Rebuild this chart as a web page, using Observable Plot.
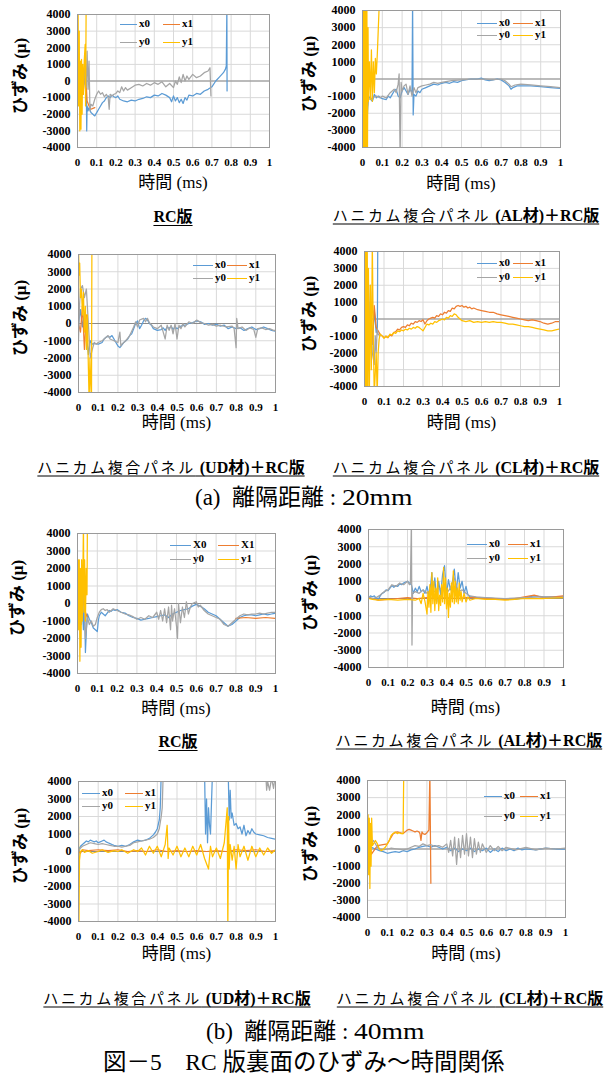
<!DOCTYPE html>
<html><head><meta charset="utf-8">
<script src="https://cdn.jsdelivr.net/npm/d3@7"></script>
<script src="https://cdn.jsdelivr.net/npm/@observablehq/plot@0.6"></script>
<style>
body{margin:0;background:#fff}
#wrap{position:relative;width:608px;height:1090px;overflow:hidden;font-family:'Liberation Serif','Noto Sans CJK JP',serif;color:#000;background:#fff}
.abs{position:absolute;white-space:nowrap;line-height:1}
.ttl{transform:translate(-50%,-50%);font-size:16px;font-weight:bold;text-decoration:underline;text-underline-offset:3px}
.kana{font-weight:normal;letter-spacing:2.6px;font-size:15px;font-family:'Noto Sans CJK JP',sans-serif}
.xl{transform:translate(-50%,-50%);font-size:17px}
.yl{transform:translate(-50%,-50%) rotate(-90deg);font-size:17px;font-weight:bold}
.cap{transform:translateY(-50%);font-size:23px}
.num{display:inline-block;transform:scaleX(1.2);transform-origin:left center}
.leg{font-size:11px;font-weight:bold;font-family:'Liberation Serif',serif}
.sw{position:absolute;height:0;border-top:1.6px solid}
svg text{font-family:'Liberation Serif',serif}
</style></head>
<body><div id="wrap"></div>
<script>
// ---- axis ticks & series ----
const xTicks = [0,0.1,0.2,0.3,0.4,0.5,0.6,0.7,0.8,0.9,1];
const yTicks = [-4000,-3000,-2000,-1000,0,1000,2000,3000,4000];
const seriesKeys = ["x0","x1","y0","y1"];
const seriesColors = ["#5B9BD5","#ED7D31","#A5A5A5","#FFC000"];

// ---- (a) 20mm, RC版 ----
const a1_x0 = [[0,0],[0.01,200],[0.02,-300],[0.03,300],[0.04,-200],[0.045,600],[0.048,-3000],[0.05,-1500],[0.055,-1800],[0.06,-1600],[0.07,-1900],[0.08,-2000],[0.09,-2100],[0.1,-1900],[0.11,-1700],[0.12,-1500],[0.13,-1300],[0.14,-1200],[0.15,-1000],[0.16,-900],[0.17,-1000],[0.18,-850],[0.19,-950],[0.2,-1000],[0.21,-900],[0.22,-1100],[0.24,-1200],[0.26,-1250],[0.28,-1150],[0.3,-1200],[0.32,-1100],[0.34,-1050],[0.36,-950],[0.38,-1000],[0.4,-850],[0.42,-900],[0.44,-750],[0.46,-850],[0.48,-1000],[0.49,-1250],[0.5,-900],[0.51,-1200],[0.52,-1000],[0.53,-1300],[0.54,-1100],[0.55,-1350],[0.56,-1000],[0.57,-1150],[0.58,-850],[0.6,-900],[0.62,-750],[0.64,-800],[0.66,-600],[0.68,-500],[0.7,-350],[0.72,0],[0.74,250],[0.76,500],[0.77,700],[0.775,900],[0.778,4500],[0.779,-600]];
const a1_x1 = [[0,0],[0.005,1500],[0.01,-1000],[0.02,800],[0.03,-800],[0.04,1000],[0.05,-1200],[0.06,-1500],[0.07,-1700],[0.08,-1650],[0.09,-1600]];
const a1_y0 = [[0,0],[0.01,-300],[0.02,400],[0.03,-600],[0.04,800],[0.045,-400],[0.05,1800],[0.055,-500],[0.06,1200],[0.065,-1800],[0.07,-1400],[0.08,-1500],[0.09,-1100],[0.1,-800],[0.11,-600],[0.12,-800],[0.13,-700],[0.14,-950],[0.15,-800],[0.16,-1000],[0.165,-1700],[0.17,-800],[0.18,-900],[0.19,-800],[0.2,-750],[0.21,-600],[0.22,-700],[0.23,-350],[0.24,-600],[0.25,-400],[0.26,-550],[0.28,-400],[0.3,-250],[0.32,-200],[0.34,-300],[0.36,-150],[0.38,-250],[0.4,-100],[0.42,-200],[0.44,-50],[0.46,-350],[0.48,-150],[0.5,-400],[0.51,0],[0.52,-200],[0.53,250],[0.54,-100],[0.55,400],[0.56,0],[0.57,300],[0.58,100],[0.6,400],[0.62,200],[0.64,300],[0.66,500],[0.68,600],[0.69,800],[0.695,-900]];
const a1_y1 = [[0,0],[0.003,4500],[0.006,-1500],[0.009,3000],[0.012,-3000],[0.015,1200],[0.018,-2900],[0.021,1300],[0.024,-2000],[0.027,1000],[0.03,-800],[0.035,1200],[0.04,2200],[0.042,-1500],[0.045,4500]];

// ---- (a) 20mm, AL材 ----
const a2_x0 = [[0,0],[0.003,-4500],[0.006,4500],[0.01,-4500],[0.015,4500],[0.02,-3000],[0.03,-1000],[0.05,-1300],[0.06,-900],[0.07,-1100],[0.08,-1000],[0.1,-1150],[0.12,-1200],[0.13,-1000],[0.14,-1100],[0.15,-900],[0.16,-700],[0.17,-600],[0.18,-1000],[0.19,-1100],[0.2,-700],[0.21,-500],[0.22,-700],[0.23,-900],[0.24,-600],[0.25,-800],[0.253,4500],[0.256,-2100],[0.26,-900],[0.27,-1000],[0.28,-700],[0.29,-800],[0.3,-600],[0.32,-500],[0.34,-400],[0.36,-300],[0.38,-350],[0.4,-250],[0.42,-200],[0.44,-250],[0.46,-150],[0.48,-200],[0.5,-100],[0.52,-50],[0.55,0],[0.58,0],[0.6,50],[0.62,-50],[0.64,-100],[0.66,-50],[0.68,0],[0.7,-50],[0.72,-200],[0.74,-400],[0.75,-600],[0.76,-500],[0.78,-400],[0.8,-400],[0.85,-400],[0.9,-450],[0.95,-500],[1,-550]];
const a2_x1 = [[0,0],[0.004,-4500],[0.008,4500],[0.012,-4500],[0.016,4500],[0.02,-4500]];
const a2_y0 = [[0,0],[0.004,4500],[0.008,-4500],[0.012,3000],[0.02,-2000],[0.03,-1200],[0.05,-1100],[0.07,-1000],[0.09,-1100],[0.1,-1000],[0.12,-1100],[0.14,-800],[0.16,-600],[0.17,-800],[0.18,-300],[0.185,300],[0.19,-4500],[0.195,-200],[0.2,-700],[0.21,-400],[0.22,-300],[0.23,-900],[0.24,-400],[0.25,-1000],[0.26,-500],[0.27,-800],[0.28,-500],[0.3,-400],[0.32,-350],[0.34,-300],[0.36,-200],[0.38,-250],[0.4,-200],[0.45,-100],[0.5,-50],[0.55,0],[0.6,0],[0.62,0],[0.65,-50],[0.7,0],[0.72,-100],[0.74,-300],[0.75,-450],[0.77,-350],[0.8,-300],[0.85,-350],[0.9,-400],[0.95,-450],[1,-500]];
const a2_y1 = [[0,0],[0.002,4500],[0.004,-4500],[0.006,4500],[0.008,-4500],[0.01,4500],[0.012,-4500],[0.014,4500],[0.016,-4500],[0.018,4500],[0.02,-4500],[0.022,4500],[0.025,-4500],[0.028,3000],[0.03,-1300],[0.035,1000],[0.04,-1200],[0.045,1700],[0.05,-1300],[0.055,1000],[0.06,-800],[0.065,1200],[0.07,300],[0.075,1500],[0.085,4500]];

// ---- (a) 20mm, UD材 ----
const a3_x0 = [[0,0],[0.01,800],[0.02,-200],[0.03,600],[0.04,-400],[0.05,-1800],[0.06,-1000],[0.07,-1200],[0.08,-1150],[0.1,-1200],[0.11,-1150],[0.12,-1100],[0.13,-900],[0.14,-800],[0.15,-750],[0.16,-800],[0.17,-700],[0.18,-900],[0.19,-1100],[0.2,-1300],[0.21,-1400],[0.22,-1250],[0.23,-1100],[0.24,-1000],[0.25,-900],[0.26,-700],[0.27,-600],[0.28,-300],[0.29,0],[0.3,150],[0.31,-300],[0.32,-100],[0.33,150],[0.34,300],[0.35,200],[0.36,0],[0.37,-100],[0.38,-300],[0.4,-400],[0.42,-350],[0.43,-250],[0.44,-400],[0.45,-200],[0.46,-300],[0.47,-150],[0.48,-350],[0.49,-200],[0.5,-300],[0.52,-150],[0.54,-100],[0.56,0],[0.58,50],[0.6,150],[0.62,100],[0.64,-50],[0.66,0],[0.68,-100],[0.7,-50],[0.72,-150],[0.74,-100],[0.76,-300],[0.78,-200],[0.8,-300],[0.82,-250],[0.84,-400],[0.86,-300],[0.88,-200],[0.9,-350],[0.92,-300],[0.94,-200],[0.96,-300],[0.98,-400],[1,-450]];
const a3_x1 = [[0,0],[0.01,-500],[0.02,1000],[0.03,-1500],[0.04,500]];
const a3_y0 = [[0,-1000],[0.005,1000],[0.01,2000],[0.02,2200],[0.03,1500],[0.04,2000],[0.05,0],[0.06,-2000],[0.07,-1500],[0.08,-1100],[0.09,-1200],[0.1,-1100],[0.12,-1000],[0.14,-800],[0.15,-700],[0.16,-900],[0.18,-1000],[0.2,-1100],[0.21,-500],[0.215,-1300],[0.22,-1200],[0.24,-1000],[0.26,-700],[0.28,-200],[0.29,100],[0.3,-200],[0.31,200],[0.33,300],[0.34,100],[0.35,300],[0.36,50],[0.38,-200],[0.4,-300],[0.42,-100],[0.43,-500],[0.44,-900],[0.45,-100],[0.46,-400],[0.47,-100],[0.48,-600],[0.49,0],[0.5,-900],[0.51,-100],[0.52,-300],[0.53,0],[0.54,-200],[0.56,100],[0.58,0],[0.6,200],[0.62,50],[0.64,0],[0.66,-100],[0.68,-50],[0.7,-150],[0.72,-100],[0.75,-200],[0.78,-150],[0.79,-300],[0.8,-1400],[0.803,300],[0.81,-300],[0.83,-200],[0.85,-400],[0.87,-250],[0.89,-350],[0.9,-800],[0.91,-300],[0.93,-250],[0.95,-350],[0.97,-300],[0.99,-400],[1,-400]];
const a3_y1 = [[0,4500],[0.003,2800],[0.006,3500],[0.01,1500],[0.015,2000],[0.02,500],[0.025,1800],[0.03,-500],[0.035,1000],[0.04,-1500],[0.045,500],[0.05,-2500],[0.054,-4500],[0.058,-2000],[0.062,-3500],[0.066,-4500],[0.068,4500]];

// ---- (a) 20mm, CL材 ----
const a4_x0 = [[0,0],[0.004,4500],[0.008,-4500],[0.012,3000],[0.02,-2000],[0.03,1000],[0.04,-1500],[0.05,500],[0.06,-800],[0.066,-500],[0.068,4500]];
const a4_x1 = [[0,0],[0.003,-4500],[0.006,4500],[0.01,-4500],[0.015,2000],[0.02,-1000],[0.03,500],[0.04,-1500],[0.05,800],[0.06,-500],[0.07,-700],[0.08,-900],[0.09,-1000],[0.1,-1100],[0.11,-1050],[0.12,-1100],[0.13,-950],[0.14,-1000],[0.15,-800],[0.16,-750],[0.17,-600],[0.18,-650],[0.19,-500],[0.2,-450],[0.21,-500],[0.22,-350],[0.23,-400],[0.24,-250],[0.25,-300],[0.26,-150],[0.27,-200],[0.28,-100],[0.29,-150],[0.3,-50],[0.31,-300],[0.32,-100],[0.33,0],[0.34,50],[0.35,100],[0.36,50],[0.37,200],[0.38,150],[0.39,300],[0.4,250],[0.41,400],[0.42,350],[0.43,500],[0.44,450],[0.45,650],[0.46,600],[0.47,750],[0.48,800],[0.49,750],[0.5,800],[0.51,700],[0.52,750],[0.53,650],[0.54,700],[0.55,600],[0.56,650],[0.58,550],[0.6,500],[0.62,450],[0.64,400],[0.66,400],[0.68,300],[0.7,250],[0.72,200],[0.74,150],[0.76,100],[0.78,50],[0.8,0],[0.82,-50],[0.84,-100],[0.86,-50],[0.88,-100],[0.9,-150],[0.92,-250],[0.94,-300],[0.96,-250],[0.98,-150],[1,-150]];
const a4_y0 = [[0,0],[0.005,-4500],[0.01,4500],[0.02,-3000],[0.03,2000],[0.04,-2000],[0.05,-2700],[0.055,-1000],[0.06,-2000],[0.065,-600],[0.07,-900],[0.08,-1000]];
const a4_y1 = [[0,0],[0.002,4500],[0.005,-4500],[0.008,4500],[0.011,-4500],[0.014,4500],[0.017,-4500],[0.02,3000],[0.025,-4500],[0.03,2000],[0.035,-3000],[0.04,4500],[0.045,-1000],[0.05,-4500],[0.06,-2000],[0.065,-4500],[0.07,-2000],[0.075,-1200],[0.08,-900],[0.09,-1000],[0.1,-1150],[0.11,-1000],[0.12,-1100],[0.13,-900],[0.14,-950],[0.15,-800],[0.16,-850],[0.17,-700],[0.18,-750],[0.19,-650],[0.2,-700],[0.21,-600],[0.22,-650],[0.23,-550],[0.24,-600],[0.25,-500],[0.26,-550],[0.27,-450],[0.28,-500],[0.29,-600],[0.3,-700],[0.31,-500],[0.32,-300],[0.33,-350],[0.34,-250],[0.35,-300],[0.36,-150],[0.37,-200],[0.38,-100],[0.39,-50],[0.4,0],[0.41,-50],[0.42,100],[0.43,50],[0.44,200],[0.45,150],[0.46,300],[0.47,250],[0.48,100],[0.49,0],[0.5,-100],[0.52,-150],[0.54,-100],[0.56,-200],[0.58,-150],[0.6,-200],[0.62,-150],[0.64,-200],[0.66,-150],[0.68,-200],[0.7,-200],[0.72,-250],[0.74,-300],[0.76,-300],[0.78,-350],[0.8,-400],[0.82,-450],[0.84,-450],[0.86,-500],[0.88,-550],[0.9,-600],[0.92,-650],[0.94,-700],[0.96,-700],[0.98,-650],[1,-600]];

// ---- (b) 40mm, RC版 ----
const b1_x0 = [[0,0],[0.01,-1000],[0.02,1000],[0.03,-1500],[0.035,500],[0.04,-2800],[0.045,-1500],[0.05,-600],[0.06,-900],[0.07,-1100],[0.08,-1400],[0.09,-1500],[0.1,-1600],[0.105,-1000],[0.11,-700],[0.12,-500],[0.13,-600],[0.14,-700],[0.15,-550],[0.16,-400],[0.17,-450],[0.18,-350],[0.19,-400],[0.2,-350],[0.22,-500],[0.24,-550],[0.26,-700],[0.28,-800],[0.3,-850],[0.32,-950],[0.34,-900],[0.36,-850],[0.38,-800],[0.4,-750],[0.42,-700],[0.44,-650],[0.46,-800],[0.48,-600],[0.5,-500],[0.52,-400],[0.54,-350],[0.56,-300],[0.58,-150],[0.6,-50],[0.62,-150],[0.64,-300],[0.66,-500],[0.68,-600],[0.7,-700],[0.72,-900],[0.74,-1100],[0.76,-1300],[0.78,-1200],[0.8,-1000],[0.82,-800],[0.84,-700],[0.86,-650],[0.88,-650],[0.9,-700],[0.92,-650],[0.94,-600],[0.96,-650],[0.98,-600],[1,-550]];
const b1_x1 = [[0,0],[0.01,500],[0.02,-800],[0.03,300],[0.04,-500],[0.05,-800],[0.06,null],[0.8,-850],[0.85,-800],[0.9,-850],[0.95,-800],[1,-850]];
const b1_y0 = [[0,0],[0.01,800],[0.02,-1200],[0.03,1000],[0.04,-2000],[0.05,-800],[0.06,-1200],[0.07,-1000],[0.08,-1300],[0.09,-1200],[0.1,-800],[0.11,-500],[0.12,-350],[0.13,-300],[0.14,-400],[0.15,-350],[0.16,-500],[0.17,-400],[0.18,-300],[0.2,-400],[0.22,-500],[0.24,-600],[0.26,-650],[0.28,-750],[0.3,-900],[0.32,-800],[0.34,-900],[0.36,-700],[0.38,-800],[0.4,-500],[0.41,-900],[0.42,-400],[0.43,-1000],[0.44,-300],[0.45,-1100],[0.46,-200],[0.47,-1500],[0.475,-100],[0.48,-1000],[0.49,-300],[0.5,-1300],[0.505,-2000],[0.51,0],[0.52,-1100],[0.53,-200],[0.54,-800],[0.55,100],[0.56,-600],[0.57,-200],[0.58,0],[0.6,100],[0.61,-200],[0.62,-100],[0.64,-400],[0.66,-600],[0.68,-700],[0.7,-800],[0.72,-900],[0.74,-1200],[0.76,-1300],[0.78,-1100],[0.8,-900],[0.82,-700],[0.84,-600],[0.86,-650],[0.88,-600],[0.9,-600],[0.92,-550],[0.94,-600],[0.96,-550],[0.98,-500],[1,-500]];
const b1_y1 = [[0,0],[0.003,2500],[0.006,-1500],[0.009,2500],[0.012,-3300],[0.015,2000],[0.018,-2500],[0.021,2500],[0.024,-1000],[0.027,1500],[0.03,4500],[0.033,-500],[0.036,2500],[0.04,-1000],[0.044,2000],[0.048,500],[0.05,4500]];

// ---- (b) 40mm, AL材 ----
const b2_x0 = [[0,0],[0.01,150],[0.02,100],[0.03,150],[0.04,0],[0.05,-50],[0.06,150],[0.07,300],[0.08,350],[0.09,500],[0.1,450],[0.11,600],[0.12,750],[0.13,650],[0.14,750],[0.15,700],[0.16,850],[0.17,800],[0.18,900],[0.19,950],[0.2,1000],[0.21,900],[0.22,800],[0.23,300],[0.24,600],[0.25,400],[0.26,700],[0.27,400],[0.28,500],[0.29,300],[0.3,700],[0.31,200],[0.32,900],[0.325,1500],[0.33,0],[0.34,1200],[0.35,-200],[0.36,1000],[0.37,200],[0.38,1400],[0.39,1900],[0.4,200],[0.41,1100],[0.42,500],[0.43,900],[0.44,1700],[0.45,400],[0.46,1500],[0.47,600],[0.48,1000],[0.49,300],[0.5,700],[0.51,200],[0.52,100],[0.54,100],[0.56,50],[0.6,50],[0.65,0],[0.7,-50],[0.75,-50],[0.8,50],[0.85,150],[0.9,100],[0.95,100],[1,100]];
const b2_x1 = [[0,50],[0.02,0],[0.05,-100],[0.1,-50],[0.15,0],[0.2,50],[0.25,0],[0.3,50],[0.35,0],[0.4,50],[0.45,0],[0.5,50],[0.55,50],[0.6,0],[0.65,0],[0.7,-50],[0.75,0],[0.8,100],[0.85,200],[0.88,100],[0.9,50],[0.95,100],[1,150]];
const b2_y0 = [[0,100],[0.02,0],[0.04,50],[0.06,200],[0.08,400],[0.1,500],[0.12,800],[0.14,700],[0.16,900],[0.18,800],[0.2,1000],[0.21,800],[0.215,900],[0.22,4500],[0.223,-2700],[0.226,300],[0.24,400],[0.26,300],[0.28,500],[0.3,300],[0.32,500],[0.34,400],[0.36,600],[0.38,500],[0.4,300],[0.42,600],[0.44,1200],[0.46,400],[0.48,500],[0.5,300],[0.52,150],[0.55,100],[0.6,50],[0.7,0],[0.8,50],[0.9,100],[1,50]];
const b2_y1 = [[0,0],[0.02,-50],[0.05,-100],[0.1,-50],[0.15,-100],[0.2,-50],[0.24,-100],[0.26,0],[0.27,-300],[0.28,300],[0.29,-200],[0.3,-900],[0.305,400],[0.31,-500],[0.315,800],[0.32,-800],[0.325,1500],[0.33,-300],[0.335,1000],[0.34,-700],[0.345,600],[0.35,-300],[0.355,1200],[0.36,-700],[0.365,200],[0.37,-400],[0.375,800],[0.38,-200],[0.385,1800],[0.39,-300],[0.395,1200],[0.4,-600],[0.405,600],[0.41,-1100],[0.415,300],[0.42,-500],[0.425,900],[0.43,-200],[0.435,1600],[0.44,-300],[0.445,1000],[0.45,-200],[0.455,600],[0.46,-300],[0.465,900],[0.47,-100],[0.475,400],[0.48,-200],[0.49,300],[0.5,-200],[0.51,100],[0.52,-100],[0.55,0],[0.6,-50],[0.65,-50],[0.7,-100],[0.75,-50],[0.8,0],[0.9,0],[1,50]];

// ---- (b) 40mm, UD材 ----
const b3_x0 = [[0,-500],[0.005,200],[0.01,300],[0.02,400],[0.03,500],[0.04,600],[0.05,550],[0.06,650],[0.07,600],[0.08,550],[0.09,600],[0.1,500],[0.11,550],[0.12,600],[0.13,650],[0.14,550],[0.15,500],[0.16,450],[0.17,400],[0.18,350],[0.2,300],[0.22,350],[0.24,300],[0.26,400],[0.28,550],[0.3,650],[0.32,600],[0.34,650],[0.35,700],[0.36,750],[0.37,850],[0.38,950],[0.39,1100],[0.4,1300],[0.41,1800],[0.415,2500],[0.42,4500],[0.64,4500],[0.645,1000],[0.65,3000],[0.655,500],[0.66,2500],[0.665,1500],[0.67,1000],[0.68,4500],[0.76,4500],[0.765,1800],[0.77,3500],[0.775,1900],[0.78,2200],[0.79,1500],[0.8,1600],[0.81,1300],[0.82,1400],[0.83,1000],[0.84,1500],[0.85,900],[0.86,1200],[0.87,1000],[0.88,1300],[0.89,1100],[0.9,1000],[0.92,950],[0.94,900],[0.96,800],[0.98,750],[1,700]];
const b3_x1 = [[0,0],[0.01,-100],[0.02,100],[0.05,50],[0.1,100],[0.15,50],[0.2,100],[0.25,0],[0.3,50],[0.35,0],[0.4,100],[0.45,0],[0.5,50],[0.55,0],[0.6,50],[0.65,0],[0.7,50],[0.75,0],[0.8,100],[0.85,50],[0.9,100],[0.95,0],[1,50]];
const b3_y0 = [[0,0],[0.01,200],[0.02,300],[0.04,400],[0.06,500],[0.08,450],[0.1,400],[0.12,450],[0.14,400],[0.16,350],[0.18,300],[0.2,300],[0.22,250],[0.24,300],[0.26,350],[0.28,500],[0.3,550],[0.32,600],[0.34,650],[0.36,700],[0.38,800],[0.4,1000],[0.41,1300],[0.42,2000],[0.425,2500],[0.43,4500],[0.95,4500],[0.955,3500],[0.96,4000],[0.97,3500],[0.98,4200],[0.99,3600],[1,4500]];
const b3_y1 = [[0,2000],[0.002,-4500],[0.005,-500],[0.01,0],[0.02,100],[0.03,-50],[0.05,50],[0.07,-100],[0.1,0],[0.12,100],[0.15,-50],[0.18,50],[0.2,0],[0.22,100],[0.25,-100],[0.28,100],[0.3,0],[0.32,200],[0.34,-200],[0.36,300],[0.38,-100],[0.4,300],[0.42,-300],[0.44,400],[0.45,1500],[0.455,-400],[0.46,200],[0.48,-200],[0.5,300],[0.52,-300],[0.54,200],[0.56,-300],[0.58,300],[0.6,-200],[0.62,400],[0.64,-400],[0.66,-1000],[0.67,300],[0.68,-300],[0.7,200],[0.72,-400],[0.74,500],[0.755,2500],[0.758,-4500],[0.762,2000],[0.765,-1000],[0.77,400],[0.78,-500],[0.79,300],[0.8,-1000],[0.81,400],[0.82,-300],[0.84,300],[0.86,-500],[0.88,300],[0.9,-300],[0.92,200],[0.94,-200],[0.96,200],[0.98,-100],[1,100]];

// ---- (b) 40mm, CL材 ----
const b4_x0 = [[0,0],[0.02,100],[0.04,0],[0.06,-100],[0.08,-150],[0.1,-250],[0.12,-200],[0.14,-150],[0.16,-200],[0.18,-100],[0.2,-150],[0.22,-50],[0.24,0],[0.26,100],[0.28,150],[0.3,200],[0.32,100],[0.34,200],[0.36,100],[0.38,0],[0.4,100],[0.42,-100],[0.44,50],[0.46,-150],[0.48,0],[0.5,-100],[0.52,50],[0.54,-150],[0.56,0],[0.58,-100],[0.6,50],[0.62,-200],[0.64,0],[0.66,-150],[0.68,50],[0.7,-100],[0.72,0],[0.74,-100],[0.76,50],[0.78,-50],[0.8,0],[0.85,-50],[0.9,50],[0.95,0],[1,0]];
const b4_x1 = [[0,0],[0.01,300],[0.02,-300],[0.05,200],[0.1,300],[0.13,900],[0.15,1000],[0.18,900],[0.19,1000],[0.2,1100],[0.21,1150],[0.22,1100],[0.23,1050],[0.24,1000],[0.25,1050],[0.26,1000],[0.265,900],[0.27,500],[0.275,1000],[0.28,900],[0.29,850],[0.3,950],[0.31,1100],[0.315,4500],[0.32,-2000]];
const b4_y0 = [[0,0],[0.02,300],[0.03,500],[0.04,300],[0.05,100],[0.06,0],[0.08,-50],[0.1,0],[0.12,50],[0.15,0],[0.18,-50],[0.2,0],[0.22,100],[0.24,200],[0.26,150],[0.28,300],[0.3,200],[0.32,250],[0.34,150],[0.36,200],[0.38,100],[0.4,300],[0.41,-200],[0.42,500],[0.43,-400],[0.44,700],[0.45,-900],[0.46,600],[0.47,-500],[0.48,800],[0.49,-300],[0.5,900],[0.51,-400],[0.52,700],[0.53,-500],[0.54,600],[0.55,-300],[0.56,400],[0.57,-200],[0.58,300],[0.6,-200],[0.62,200],[0.64,-100],[0.66,150],[0.68,-100],[0.7,100],[0.75,-50],[0.8,100],[0.85,-50],[0.9,50],[0.95,0],[1,50]];
const b4_y1 = [[0,0],[0.003,2000],[0.006,-1500],[0.009,1800],[0.012,-2300],[0.015,1500],[0.018,-1000],[0.021,1800],[0.025,200],[0.03,300],[0.04,500],[0.05,300],[0.06,0],[0.07,-100],[0.08,0],[0.09,100],[0.1,300],[0.11,500],[0.12,800],[0.13,900],[0.14,1000],[0.15,900],[0.16,950],[0.17,900],[0.18,900],[0.183,4500]];

// ---- texts ----
const yLabel = "ひずみ (μ)";
const xLabel = "時間 (ms)";
const legendLabelsA = ["x0","x1","y0","y1"];
const legendLabelsB = ["X0","X1","y0","y1"];
const captionA = ["(a)", "離隔距離", "20mm"];
const captionB = ["(b)", "離隔距離", "40mm"];
const figCaption = "図－5　RC 版裏面のひずみ～時間関係";

// ---- layout (page pixels) ----
const panels = [
  {L:77,R:269,T:14,B:147, ylx:20, xly:182, title:["","RC版"], tx:173, ty:217, leg:[120,24,43,18,17], labels:legendLabelsA, s:[a1_x0,a1_x1,a1_y0,a1_y1]},
  {L:362,R:560,T:10,B:147, ylx:309, xly:183, title:["ハニカム複合パネル"," (AL材)＋RC版"], tx:466, ty:215, leg:[477,23,36,12,20], labels:legendLabelsA, s:[a2_x0,a2_x1,a2_y0,a2_y1]},
  {L:78,R:275,T:254,B:392, ylx:20, xly:422, title:["ハニカム複合パネル"," (UD材)＋RC版"], tx:171, ty:467, leg:[193,265,34,13,20], labels:legendLabelsA, s:[a3_x0,a3_x1,a3_y0,a3_y1]},
  {L:364,R:559,T:251,B:386, ylx:309, xly:422, title:["ハニカム複合パネル"," (CL材)＋RC版"], tx:466, ty:467, leg:[477,263,36,14,20], labels:legendLabelsA, s:[a4_x0,a4_x1,a4_y0,a4_y1]},
  {L:77,R:275,T:533,B:673, ylx:17, xly:708, title:["","RC版"], tx:178, ty:742, leg:[170,545,48,14,21], labels:legendLabelsB, s:[b1_x0,b1_x1,b1_y0,b1_y1]},
  {L:368,R:563,T:529,B:667, ylx:310, xly:707, title:["ハニカム複合パネル"," (AL材)＋RC版"], tx:469, ty:740, leg:[467,544,41,14,20], labels:legendLabelsA, s:[b2_x0,b2_x1,b2_y0,b2_y1]},
  {L:78,R:275,T:781,B:921, ylx:20, xly:953, title:["ハニカム複合パネル"," (UD材)＋RC版"], tx:177, ty:998, leg:[82,793,43,13,18], labels:legendLabelsA, s:[b3_x0,b3_x1,b3_y0,b3_y1]},
  {L:367,R:565,T:780,B:917, ylx:310, xly:953, title:["ハニカム複合パネル"," (CL材)＋RC版"], tx:470, ty:998, leg:[484,796,36,20,18], labels:legendLabelsA, s:[b4_x0,b4_x1,b4_y0,b4_y1]}
];

const ML = 48, MR = 6, MT = 4, MB = 24;
const FONT = "'Liberation Serif', serif";
const wrap = document.getElementById("wrap");

function addText(cls, x, y, html) {
  const d = document.createElement("div");
  d.className = "abs " + cls;
  d.style.left = x + "px"; d.style.top = y + "px";
  d.innerHTML = html;
  wrap.appendChild(d);
  return d;
}

for (const p of panels) {
  const rows = [];
  p.s.forEach((arr, i) => { for (const [t, v] of arr) rows.push({t, v, k: seriesKeys[i]}); });
  const w = p.R - p.L, h = p.B - p.T;
  const chart = Plot.plot({
    width: w + ML + MR, height: h + MT + MB,
    marginLeft: ML, marginRight: MR, marginTop: MT, marginBottom: MB,
    style: "font-family:'Liberation Serif',serif;font-weight:bold;background:transparent;overflow:visible;color:#000",
    x: {domain: [0, 1], label: null},
    y: {domain: [-4000, 4000], label: null},
    color: {domain: seriesKeys, range: seriesColors},
    marks: [
      Plot.gridX(xTicks, {stroke: "#d9d9d9", strokeOpacity: 1}),
      Plot.gridY(yTicks, {stroke: "#d9d9d9", strokeOpacity: 1}),
      Plot.ruleY([0], {stroke: "#8a8a8a", strokeWidth: 1.2}),
      Plot.line(rows, {x: "t", y: "v", z: "k", stroke: "k", strokeWidth: 1.25, clip: true}),
      Plot.frame({stroke: "#9a9a9a"}),
      Plot.axisX(xTicks, {tickSize: 0, tickPadding: 11, fontSize: 11, fontFamily: FONT, fontWeight: "bold", label: null,
        tickFormat: d => (d === 0 || d === 1) ? String(d) : d.toFixed(1)}),
      Plot.axisY(yTicks, {tickSize: 0, tickPadding: 7, fontSize: 12, fontFamily: FONT, fontWeight: "bold", label: null, tickFormat: d => String(d)})
    ]
  });
  const box = document.createElement("div");
  box.className = "abs";
  box.style.left = (p.L - ML) + "px"; box.style.top = (p.T - MT) + "px";
  box.appendChild(chart);
  wrap.appendChild(box);

  addText("xl", (p.L + p.R) / 2, p.xly, xLabel);
  addText("yl", p.ylx, (p.T + p.B) / 2 - 5, yLabel);
  addText("ttl", p.tx, p.ty, (p.title[0] ? `<span class="kana">${p.title[0]}</span>` : "") + p.title[1]);
  const [lx, ly, cdx, rdy, sw] = p.leg;
  p.labels.forEach((lab, i) => {
    const col = i % 2, row = Math.floor(i / 2);
    const x = lx + col * cdx, y = ly + row * rdy;
    const s = document.createElement("div");
    s.className = "sw";
    s.style.left = x + "px"; s.style.top = y + "px"; s.style.width = sw + "px";
    s.style.borderTopColor = seriesColors[i];
    wrap.appendChild(s);
    addText("leg", x + sw + 2, y - 6, lab);
  });
}

function caption(c, x, y) {
  return addText("cap", x, y, `${c[0]}&nbsp;&nbsp;${c[1]}&nbsp;: <span class="num">${c[2]}</span>`);
}
caption(captionA, 195, 497);
caption(captionB, 206, 1031);
const fc = addText("cap", 103, 1063, figCaption);
fc.style.fontSize = "23.5px";
</script>
</body></html>
